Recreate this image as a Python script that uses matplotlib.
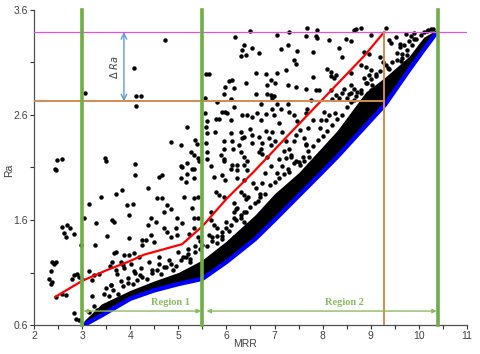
import numpy as np
import matplotlib.pyplot as plt

plt.rcParams['font.family'] = ['Liberation Sans', 'DejaVu Sans']

pts_x = [4.08, 3.07, 4.13, 4.23, 4.13, 2.47, 2.59, 2.44, 3.47, 3.49, 4.11,
         4.72, 6.17, 6.50, 6.37, 6.33, 6.30, 6.40, 6.54, 5.57, 5.64,
         5.98, 6.05, 6.12, 6.16, 6.40, 5.95, 5.56, 6.10, 5.81,
         6.16, 5.98, 6.02, 5.91, 5.56, 5.78, 5.85, 6.10, 6.33, 6.43, 6.54,
         5.19, 5.60, 5.57, 5.60, 5.76, 6.10, 6.30, 6.37, 6.50,
         4.84, 5.05, 5.34, 5.38, 5.26, 5.33, 5.40, 5.43, 5.57, 5.60, 5.60,
         5.94, 5.94, 5.89, 5.96, 6.12, 6.14, 6.26, 6.33, 6.30, 6.37, 6.43,
         6.54, 6.54, 5.19, 5.08, 5.29, 5.95, 6.12, 6.23, 6.37,
         7.68, 7.89, 8.69, 8.79, 8.65, 7.30, 7.06, 7.65, 7.86, 7.89, 8.13,
         8.48, 8.58, 7.27, 7.13, 7.47, 7.79, 8.34, 6.68, 8.41, 7.41, 7.44,
         8.10, 8.17, 8.27, 8.24, 8.17, 7.23, 6.61, 6.82, 7.06, 6.92, 6.85, 7.02,
         7.27, 7.44, 7.79, 7.65, 7.86, 7.93, 8.17,
         8.58, 8.65, 8.72, 8.58, 8.51, 8.65, 8.79,
         6.61, 6.85, 6.92, 6.99, 6.95, 8.27, 8.34, 8.41, 7.75,
         6.71, 7.06, 6.95, 7.13, 7.27, 6.64, 6.82, 6.71, 6.99, 7.09,
         7.30, 7.41, 7.47, 7.65, 7.68, 8.03, 8.13, 8.06, 7.96,
         6.82, 6.95, 6.68, 6.75, 6.89, 7.16, 7.23, 7.44, 7.54, 7.61, 7.65,
         6.71, 6.68, 6.75, 6.92, 7.02, 6.85, 7.20, 7.34, 7.23, 7.44,
         7.72, 7.61, 7.54, 6.92, 7.16, 7.27,
         9.31, 9.00, 9.52, 9.38, 9.42, 9.73, 9.83, 9.80, 9.69, 10.11, 10.18,
         8.86, 8.96, 9.55, 9.66, 9.76, 9.62, 9.31, 9.38,
         8.90, 9.00, 8.96, 9.10, 9.45, 9.52, 9.55,
         8.93, 9.03, 9.00, 9.14, 9.17, 9.07, 8.93,
         2.45, 4.11, 3.82, 3.70, 3.39, 3.14, 3.93, 4.06, 3.98, 3.05, 3.63, 3.66,
         3.28, 2.59, 2.69, 2.75, 2.62, 2.66, 2.83, 3.52, 3.98, 4.25, 2.97, 3.26,
         3.70, 3.66, 3.87, 3.98, 4.08, 4.25, 4.18, 2.38, 2.45, 2.42,
         3.63, 3.59, 3.80, 3.84, 4.01, 2.83, 2.90, 2.94, 2.80, 3.00,
         2.35, 2.31, 2.38, 2.35, 3.14, 3.25, 3.35, 3.21,
         3.70, 3.73, 3.87, 4.08, 4.22, 2.59, 2.66, 2.45, 2.83, 2.87, 2.94,
         5.05, 5.33, 5.67, 6.09, 6.23, 6.43, 5.19, 5.05, 5.15, 5.33, 5.74,
         5.91, 5.98, 6.23, 6.37, 4.67, 4.60,
         4.36, 4.67, 4.56, 5.12, 5.33, 5.40, 5.78, 5.85, 5.95, 6.30, 6.37,
         4.77, 4.84, 4.70, 5.29, 5.67, 6.16, 6.23, 6.37,
         4.43, 4.53, 4.36, 4.98, 5.08, 5.33, 5.40, 5.67, 5.74, 6.16, 6.30, 6.37,
         4.70, 4.77, 4.95, 4.98, 4.84, 4.43, 4.32, 4.50, 5.33, 5.22, 5.40,
         5.64, 5.71, 5.91, 6.05, 6.16, 6.43, 6.50,
         4.40, 4.60, 4.80, 5.00, 5.20, 5.35, 4.70, 5.45, 4.45, 4.90, 5.25,
         6.62, 6.70, 6.65, 3.20, 3.50, 3.80, 4.20, 3.60, 3.95, 5.80, 6.00,
         6.20, 5.90, 6.40, 6.55, 7.10, 7.40, 7.80, 8.20, 8.60, 9.20, 9.60,
         9.90, 10.25, 5.10, 5.50, 6.80, 7.30, 7.70, 8.45, 8.80]
pts_y = [3.05, 2.81, 2.78, 2.78, 2.69, 2.17, 2.18, 2.09, 2.19, 2.16, 2.13,
         3.31, 3.34, 3.40, 3.27, 3.22, 3.16, 3.17, 3.24, 2.99, 2.99,
         2.87, 2.92, 2.93, 2.86, 2.90, 2.80, 2.76, 2.75, 2.72,
         2.68, 2.63, 2.62, 2.63, 2.62, 2.56, 2.56, 2.55, 2.60, 2.60, 2.58,
         2.49, 2.54, 2.49, 2.43, 2.44, 2.43, 2.44, 2.39, 2.47,
         2.34, 2.31, 2.36, 2.32, 2.25, 2.22, 2.19, 2.16, 2.33, 2.25, 2.18,
         2.35, 2.28, 2.22, 2.18, 2.35, 2.28, 2.31, 2.38, 2.25, 2.20, 2.16,
         2.41, 2.33, 2.14, 2.10, 2.09, 2.16, 2.12, 2.12, 2.12,
         3.43, 3.41, 3.42, 3.43, 3.41, 3.39, 3.36, 3.35, 3.35, 3.33, 3.31,
         3.32, 3.30, 3.27, 3.23, 3.21, 3.20, 3.24, 3.19, 3.15, 3.12, 3.09,
         3.04, 3.01, 2.98, 2.95, 2.97, 3.03, 3.00, 2.99, 3.00, 2.93, 2.89, 2.90,
         2.89, 2.87, 2.96, 2.85, 2.84, 2.84, 2.84,
         2.89, 2.85, 2.82, 2.81, 2.76, 2.74, 2.81,
         2.80, 2.80, 2.79, 2.78, 2.76, 2.79, 2.76, 2.81, 2.74,
         2.70, 2.70, 2.66, 2.66, 2.70, 2.62, 2.61, 2.55, 2.60, 2.52,
         2.63, 2.60, 2.54, 2.62, 2.66, 2.63, 2.60, 2.55, 2.55,
         2.45, 2.44, 2.39, 2.33, 2.38, 2.44, 2.35, 2.41, 2.46, 2.38, 2.31,
         2.28, 2.25, 2.23, 2.31, 2.35, 2.20, 2.26, 2.22, 2.19, 2.16,
         2.20, 2.16, 2.12, 2.11, 2.11, 2.09,
         3.43, 3.36, 3.34, 3.31, 3.29, 3.37, 3.35, 3.30, 3.27, 3.39, 3.40,
         3.20, 3.18, 3.19, 3.14, 3.17, 3.11, 3.08, 3.04,
         3.06, 3.03, 2.98, 2.99, 2.98, 2.96, 2.93,
         2.90, 2.89, 2.84, 2.85, 2.79, 2.77, 2.79,
         2.08, 2.03, 1.89, 1.85, 1.82, 1.75, 1.74, 1.75, 1.65, 1.62, 1.60, 1.58,
         1.57, 1.53, 1.55, 1.52, 1.48, 1.44, 1.47, 1.45, 1.43, 1.41, 1.36, 1.36,
         1.30, 1.29, 1.27, 1.27, 1.29, 1.36, 1.25, 1.20, 1.20, 1.18,
         1.20, 1.16, 1.20, 1.17, 1.18, 1.08, 1.09, 1.06, 1.04, 1.04,
         1.11, 1.04, 1.01, 0.99, 1.11, 1.08, 1.09, 1.03,
         1.12, 1.09, 1.14, 1.11, 1.14, 0.90, 0.89, 0.87, 0.71, 0.66, 0.65,
         2.11, 2.09, 2.11, 2.09, 2.08, 2.08, 2.04, 2.00, 1.96, 2.00, 2.01,
         2.03, 1.98, 2.00, 1.98, 2.03, 2.01,
         1.90, 1.81, 1.81, 1.82, 1.81, 1.82, 1.87, 1.84, 1.82, 1.87, 1.84,
         1.74, 1.70, 1.68, 1.71, 1.68, 1.76, 1.71, 1.68,
         1.62, 1.58, 1.55, 1.62, 1.57, 1.62, 1.62, 1.60, 1.55, 1.62, 1.65, 1.58,
         1.52, 1.49, 1.52, 1.46, 1.44, 1.46, 1.41, 1.39, 1.52, 1.47, 1.44,
         1.46, 1.44, 1.49, 1.50, 1.44, 1.55, 1.49,
         1.20, 1.25, 1.22, 1.30, 1.28, 1.35, 1.15, 1.40, 1.12, 1.12, 1.20,
         1.90, 1.85, 1.78, 0.88, 0.95, 1.02, 1.08, 0.98, 1.05, 1.38, 1.58,
         1.70, 1.45, 1.80, 1.95, 2.18, 2.35, 2.55, 2.75, 3.00, 3.15, 3.28,
         3.32, 3.42, 1.25, 1.36, 2.05, 2.28, 2.48, 2.85, 3.08]

# dots crowding the top edge of the dense cloud
edge_x = [3.15, 3.25, 3.30, 3.45, 3.55, 3.65, 3.75, 3.85, 3.95, 4.05, 4.15, 4.25,
          4.35, 4.45, 4.55, 4.65, 4.75, 4.85, 4.95, 5.05, 5.15, 5.25, 5.35, 5.45,
          5.60, 5.70, 5.80, 5.90, 6.00, 6.10, 6.20, 6.30, 6.40, 6.50, 6.60, 6.70,
          6.80, 6.90, 7.00, 7.10, 7.20, 7.30, 7.40, 7.50, 7.60, 7.70, 7.80, 7.90,
          8.00, 8.10, 8.20, 8.30, 8.40, 8.50, 8.60, 8.70, 8.80, 8.90, 9.00, 9.10,
          9.20, 9.35, 9.45, 9.55, 9.65, 9.75, 9.85, 9.95, 10.05, 10.20, 10.30,
          6.45, 6.75, 7.05, 7.35, 7.65, 7.95, 8.25, 8.55, 8.85, 9.25, 9.60, 9.90,
          5.20, 4.60, 4.10, 3.60, 5.80, 6.15]
edge_y = [0.72, 0.78, 0.74, 0.90, 0.88, 0.93, 0.90, 0.97, 1.00, 0.99, 1.03, 1.06,
          1.04, 1.10, 1.12, 1.09, 1.15, 1.18, 1.16, 1.22, 1.25, 1.23, 1.30, 1.32,
          1.35, 1.40, 1.45, 1.42, 1.52, 1.55, 1.60, 1.62, 1.68, 1.72, 1.76, 1.82,
          1.85, 1.93, 1.96, 2.00, 2.04, 2.06, 2.14, 2.15, 2.20, 2.26, 2.30, 2.36,
          2.40, 2.45, 2.50, 2.56, 2.60, 2.68, 2.72, 2.78, 2.84, 2.90, 2.94, 2.97,
          3.02, 3.05, 3.10, 3.12, 3.18, 3.22, 3.27, 3.32, 3.36, 3.41, 3.42,
          1.82, 1.95, 2.05, 2.20, 2.32, 2.48, 2.62, 2.80, 2.95, 3.10, 3.25, 3.38,
          1.32, 1.18, 1.10, 0.98, 1.52, 1.68]

# dense cloud along the lower envelope
band_x = [3.04, 3.4, 4.0, 4.5, 5.0, 5.5, 6.0, 6.6, 7.0, 7.5, 8.0, 8.3, 8.9, 9.3, 9.8, 10.1, 10.36]
band_lo = [0.60, 0.69, 0.85, 0.93, 0.99, 1.04, 1.20, 1.42, 1.60, 1.83, 2.06, 2.20, 2.50, 2.70, 3.03, 3.22, 3.38]
band_hi = [0.64, 0.80, 0.93, 1.02, 1.10, 1.22, 1.40, 1.65, 1.85, 2.05, 2.30, 2.45, 2.82, 2.96, 3.16, 3.34, 3.41]

# red trend line
red_x = [2.45, 3.0, 3.5, 4.0, 4.29, 5.08, 5.5, 6.0, 6.57, 7.27, 7.96, 8.86, 9.28]
red_y = [0.87, 1.02, 1.12, 1.21, 1.27, 1.37, 1.54, 1.80, 2.06, 2.40, 2.73, 3.16, 3.39]

region_bounds = [3.0, 5.5, 10.4]
ra_top = 3.39
ra_mid = 2.73
mrr_mid = 9.28

green = '#70ad47'
orange = '#d38b4f'

fig = plt.figure(figsize=(4.8, 3.54), dpi=100)
ax = fig.add_axes([0.0708, 0.0819, 0.902, 0.8899])

ax.fill_between(band_x, band_lo, band_hi, color='black', lw=0, zorder=2)
ax.plot(pts_x, pts_y, 'o', color='black', ms=3.2, mew=0, zorder=3)
ax.plot(edge_x, edge_y, 'o', color='black', ms=3.2, mew=0, zorder=3)
ax.plot(band_x, band_lo, color='#0000ff', lw=3.2, solid_capstyle='butt', zorder=4)
ax.plot(red_x, red_y, color='#ff0000', lw=1.6, zorder=5)

ax.plot([2, 11], [ra_top, ra_top], color='#e055e0', lw=0.9, zorder=6)
ax.plot([2, mrr_mid], [ra_mid, ra_mid], color=orange, lw=1.4, zorder=6)
ax.plot([mrr_mid, mrr_mid], [0.6, ra_top], color=orange, lw=1.4, zorder=6)
for xv in region_bounds:
    ax.plot([xv, xv], [0.6, 3.6], color=green, lw=2.6, zorder=7, clip_on=False)

# delta Ra arrow
ax.annotate('', xy=(3.87, ra_top), xytext=(3.87, ra_mid),
            arrowprops=dict(arrowstyle='<->', color='#5b9bd5', lw=1.0, shrinkA=0, shrinkB=0))
ax.text(3.66, 3.06, r'$\Delta$ $Ra$', rotation=90, ha='center', va='center',
        fontsize=7, family='DejaVu Serif', style='italic', color='#404040')

# region arrows
ax.annotate('', xy=(3.0, 0.733), xytext=(5.5, 0.733),
            arrowprops=dict(arrowstyle='<|-|>', color='#8dbb63', lw=1.0,
                            mutation_scale=6, shrinkA=1, shrinkB=1), zorder=8)
ax.annotate('', xy=(5.5, 0.733), xytext=(10.4, 0.733),
            arrowprops=dict(arrowstyle='<|-|>', color='#8dbb63', lw=1.0,
                            mutation_scale=6, shrinkA=1, shrinkB=3), zorder=8)
ax.text(4.83, 0.81, 'Region 1', ha='center', va='center', fontsize=7.5,
        family='Liberation Serif', weight='bold', color='#8dbb63')
ax.text(8.45, 0.81, 'Region 2', ha='center', va='center', fontsize=7.5,
        family='Liberation Serif', weight='bold', color='#8dbb63')

ax.set_xlim(2, 11)
ax.set_ylim(0.6, 3.6)
ax.set_xticks(np.arange(2, 12, 1))
ax.set_xticks(np.arange(2.5, 11, 1), minor=True)
ax.set_yticks([0.6, 1.6, 2.6, 3.6])
ax.set_yticks([1.1, 2.1, 3.1], minor=True)
ax.set_yticklabels(['0.6', '1.6', '2.6', '3.6'])
for side in ['top', 'right']:
    ax.spines[side].set_visible(False)
for side in ['left', 'bottom']:
    ax.spines[side].set_color('#505050')
    ax.spines[side].set_linewidth(0.9)
ax.tick_params(which='both', direction='out', length=3, width=0.8, color='#303030',
               labelsize=7.5, labelcolor='#404040', pad=1.5)

ax.set_xlabel('MRR', fontsize=7.5, color='#404040')
ax.set_ylabel('Ra', fontsize=7.5, color='#404040')
ax.xaxis.set_label_coords(0.487, -0.045)
ax.yaxis.set_label_coords(-0.045, 0.49)

fig.savefig('out.png', dpi=100)
